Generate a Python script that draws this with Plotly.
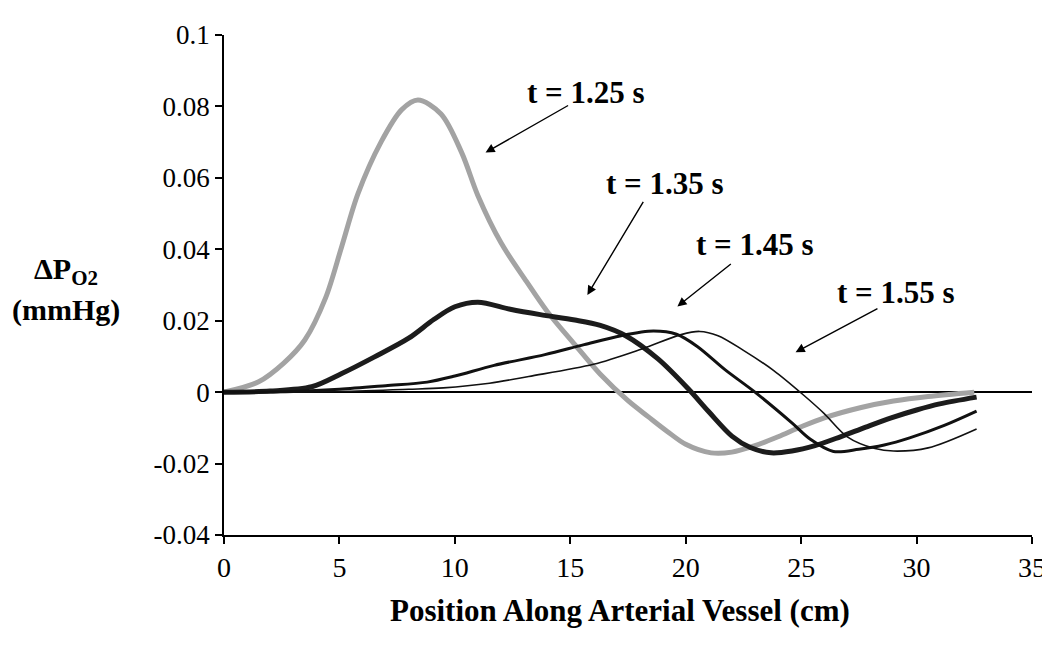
import plotly.graph_objects as go

# t = 1.25 s (grey, thick)
x_125 = [0, 1.5, 2.6, 3.5, 4.4, 5.1, 5.8, 6.8, 7.7, 8.4, 9.4, 10.3, 11.0, 12.0, 13.1, 14.0,
         15.2, 16.3, 17.5, 18.4, 19.2, 20.0, 21.1, 22.0, 23.0, 24.0, 25.0, 26.0, 27.6, 29.0, 30.5, 32.5]
y_125 = [0.0, 0.0029, 0.0082, 0.0146, 0.0264, 0.0408, 0.0555, 0.0700, 0.0791, 0.0818, 0.0779, 0.0670,
         0.0550, 0.0418, 0.0310, 0.0226, 0.0133, 0.0050, -0.0024, -0.0070, -0.0110, -0.0146, -0.0170,
         -0.0168, -0.0150, -0.0125, -0.0097, -0.0072, -0.0043, -0.0025, -0.0012, 0.0]

# t = 1.35 s (black, thick)
x_135 = [0, 2.0, 3.8, 5.1, 6.5, 8.0, 9.1, 10.0, 11.0, 12.4, 13.7, 15.2, 16.3, 17.4, 18.8, 20.1,
         21.0, 22.0, 22.8, 23.7, 24.6, 25.6, 26.7, 27.8, 28.9, 30.0, 31.0, 32.6]
y_135 = [0.0, 0.0003, 0.0015, 0.0052, 0.0098, 0.0151, 0.0204, 0.0239, 0.0252, 0.0232, 0.0217, 0.0202,
         0.0187, 0.0158, 0.0093, 0.0010, -0.0055, -0.0123, -0.0155, -0.0170, -0.0165, -0.0150,
         -0.0125, -0.0098, -0.0072, -0.0050, -0.0033, -0.0014]

# t = 1.45 s (black, medium)
x_145 = [0, 3, 5, 7, 8.8, 10.0, 11.7, 13.9, 15.6, 17.2, 18.6, 19.6, 20.5, 21.7, 23.0, 24.6, 25.4,
         26.4, 27.5, 28.6, 29.7, 31.2, 32.6]
y_145 = [0.0, 0.0002, 0.0008, 0.0018, 0.0028, 0.0045, 0.0075, 0.0105, 0.0133, 0.0158, 0.0171, 0.0162,
         0.0128, 0.0063, 0.0, -0.0086, -0.0132, -0.0166, -0.0160, -0.0148, -0.0128, -0.0093, -0.0053]

# t = 1.55 s (black, thin)
x_155 = [0, 5, 8, 9.5, 11.5, 13.2, 16.0, 18.1, 19.8, 20.6, 21.4, 22.5, 23.8, 25.1, 26.0, 27.0,
         28.2, 29.0, 30.5, 32.6]
y_155 = [0.0, 0.0002, 0.0008, 0.0012, 0.0025, 0.0044, 0.0078, 0.0121, 0.0161, 0.0170, 0.0158,
         0.0117, 0.0061, -0.0008, -0.0060, -0.0125, -0.0158, -0.0165, -0.0156, -0.0103]

x_ticks = [0, 5, 10, 15, 20, 25, 30, 35]
y_ticks = [-0.04, -0.02, 0, 0.02, 0.04, 0.06, 0.08, 0.1]
y_tick_labels = ['-0.04', '-0.02', '0', '0.02', '0.04', '0.06', '0.08', '0.1']

SERIF = 'Liberation Serif, Times New Roman, serif'

fig = go.Figure()
for xs, ys, col, w in [(x_125, y_125, '#a3a3a3', 5),
                       (x_135, y_135, '#1c1c1c', 5),
                       (x_145, y_145, '#111111', 3),
                       (x_155, y_155, '#111111', 1.6)]:
    fig.add_trace(go.Scatter(x=xs, y=ys, mode='lines',
                             line=dict(color=col, width=w, shape='spline', smoothing=0.9),
                             showlegend=False, hoverinfo='skip'))

# labels and arrows: (text, label x, label y, arrow tail x, tail y, head x, head y)
labels = [
    ('t = 1.25 s', 15.66, 0.0838, 14.97, 0.0805, 11.33, 0.0671),
    ('t = 1.35 s', 19.12, 0.0584, 18.20, 0.0537, 15.74, 0.0272),
    ('t = 1.45 s', 23.00, 0.0414, 22.02, 0.0362, 19.64, 0.0240),
    ('t = 1.55 s', 29.10, 0.0279, 28.37, 0.0236, 24.76, 0.0112),
]
for txt, lx, ly, tx, ty, hx, hy in labels:
    fig.add_annotation(x=lx, y=ly, text='<b>' + txt + '</b>', showarrow=False,
                       xanchor='center', yanchor='middle',
                       font=dict(family=SERIF, size=31, color='black'))
    fig.add_annotation(x=hx, y=hy, ax=tx, ay=ty, axref='x', ayref='y', text='',
                       showarrow=True, arrowhead=2, arrowsize=1.3, arrowwidth=1.4,
                       arrowcolor='black')

fig.add_annotation(xref='paper', yref='paper', x=-0.195, y=0.528, xanchor='center',
                   text='<b>ΔP<sub>O2</sub></b>', showarrow=False,
                   font=dict(family=SERIF, size=30, color='black'))
fig.add_annotation(xref='paper', yref='paper', x=-0.195, y=0.45, xanchor='center',
                   text='<b>(mmHg)</b>', showarrow=False,
                   font=dict(family=SERIF, size=30, color='black'))
fig.add_annotation(xref='paper', yref='paper', x=0.49, y=0, xanchor='center', yanchor='top',
                   yshift=-56,
                   text='<b>Position Along Arterial Vessel (cm)</b>', showarrow=False,
                   font=dict(family=SERIF, size=31, color='black'))

fig.update_xaxes(range=[0, 35], tickvals=x_ticks, showgrid=False, zeroline=False,
                 showline=True, linecolor='black', linewidth=1.5,
                 ticks='outside', ticklen=7, tickwidth=1.5, tickcolor='black',
                 tickfont=dict(family=SERIF, size=28, color='black'))
fig.update_yaxes(range=[-0.04, 0.1], tickvals=y_ticks, ticktext=y_tick_labels,
                 showgrid=False, zeroline=True, zerolinecolor='black', zerolinewidth=1.5,
                 showline=True, linecolor='black', linewidth=1.5,
                 ticks='outside', ticklen=7, tickwidth=1.5, tickcolor='black',
                 tickfont=dict(family=SERIF, size=27, color='black'))

fig.update_layout(width=1050, height=648, plot_bgcolor='white', paper_bgcolor='white',
                  margin=dict(l=216, r=25, t=16, b=121))

fig.write_html("out.html")
